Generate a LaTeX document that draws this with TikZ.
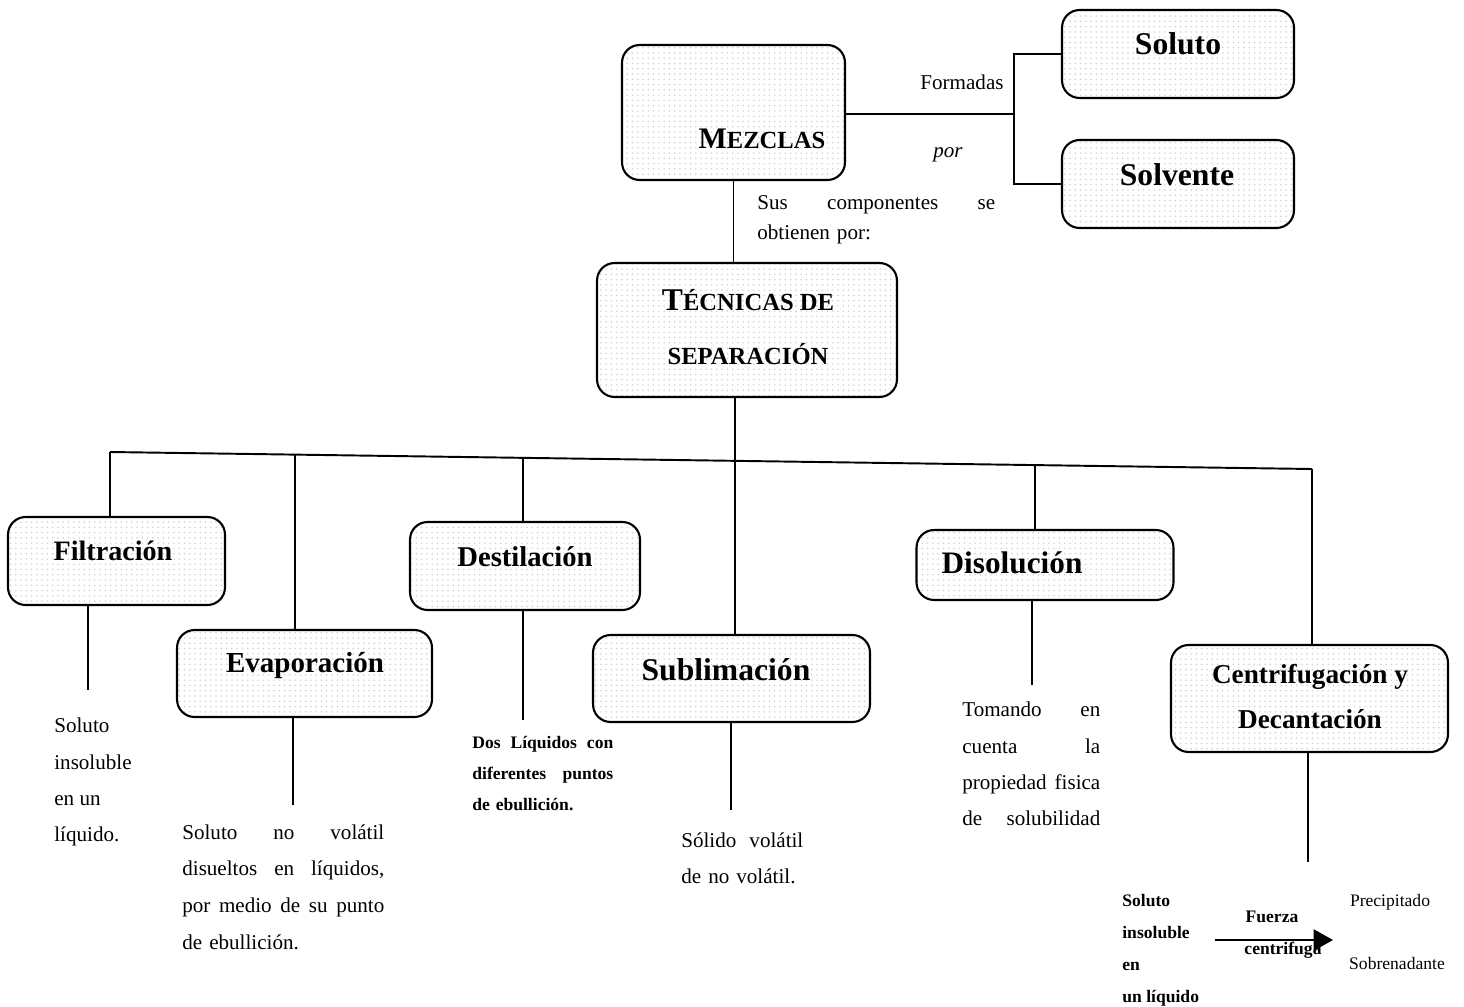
\documentclass[tikz,border=0pt]{standalone}
\usepackage{fontspec}
\setmainfont{Liberation Serif}
\usetikzlibrary{arrows.meta,patterns}

\tikzset{
  box/.style={draw, line width=1.2pt, rounded corners=10pt, pattern=dots, pattern color=black!18, inner sep=0pt},
  boxtext/.style={font=\fontsize{17}{20}\selectfont\bfseries, inner sep=0pt, text height=12pt, text depth=0pt},
  twoline/.style={font=\bfseries, inner sep=0pt, align=center},
  note/.style={anchor=north west, inner sep=0pt, align=left, font=\fontsize{12}{20.5}\selectfont},
  small/.style={anchor=north west, inner sep=0pt, align=left, font=\fontsize{10}{17.6}\selectfont\bfseries},
  link/.style={line width=1.1pt},
}

\begin{document}
\begin{tikzpicture}[x=0.02cm, y=-0.02cm]
    \fill[white] (0,0) rectangle (1464,1007);
    \useasboundingbox (0,0) rectangle (1464,1007);

    \node[box, minimum width=4.46cm, minimum height=2.70cm] (mez) at (733.5,112.5) {};
    \node[box, minimum width=4.64cm, minimum height=1.76cm] (sol) at (1178,54) {};
    \node[box, minimum width=4.64cm, minimum height=1.76cm] (solv) at (1178,184) {};
    \node[box, minimum width=6.00cm, minimum height=2.68cm] (tec) at (747,330) {};
    \node[box, minimum width=4.34cm, minimum height=1.76cm] (filt) at (116.5,561) {};
    \node[box, minimum width=5.10cm, minimum height=1.74cm] (evap) at (304.5,673.5) {};
    \node[box, minimum width=4.60cm, minimum height=1.76cm] (dest) at (525,566) {};
    \node[box, minimum width=5.54cm, minimum height=1.74cm] (subl) at (731.5,678.5) {};
    \node[box, minimum width=5.14cm, minimum height=1.40cm] (diso) at (1045,565) {};
    \node[box, minimum width=5.54cm, minimum height=2.14cm] (cent) at (1309.5,698.5) {};

    \node[boxtext] (mez-t) at (762,138) {M\fontsize{14}{20}\selectfont EZCLAS};
    \node[boxtext, font=\fontsize{18}{20}\selectfont\bfseries] (sol-t) at (1178,44) {Soluto};
    \node[boxtext, font=\fontsize{18}{20}\selectfont\bfseries] (solv-t) at (1177,175) {Solvente};
    \node[twoline, font=\fontsize{18}{31}\selectfont\bfseries] (tec-t) at (748,327)
        {T\fontsize{14}{31}\selectfont ÉCNICAS DE\\\fontsize{14}{31}\selectfont SEPARACIÓN};
    \node[boxtext, font=\fontsize{16}{20}\selectfont\bfseries] (filt-t) at (113,550) {Filtración};
    \node[boxtext, font=\fontsize{16.5}{20}\selectfont\bfseries] (evap-t) at (305,662) {Evaporación};
    \node[boxtext, font=\fontsize{16.3}{20}\selectfont\bfseries] (dest-t) at (525,556) {Destilación};
    \node[boxtext, font=\fontsize{18}{20}\selectfont\bfseries] (subl-t) at (726,670) {Sublimación};
    \node[boxtext, font=\fontsize{17.8}{20}\selectfont\bfseries] (diso-t) at (1012,563) {Disolución};
    \node[twoline, font=\fontsize{15.5}{25.6}\selectfont\bfseries] (cent-t) at (1310,697)
        {Centrifugación y\\Decantación};

    \coordinate (fork) at (1014,114);
    \draw[link] (mez.east |- fork) -- (fork);
    \draw[link] (sol.west) -| (fork) |- (solv.west);
    \node[font=\fontsize{12}{14}\selectfont] (form) at (962,82) {Formadas};
    \node[font=\fontsize{12}{14}\selectfont\itshape] (por) at (948,155) {por};

    \draw[link] (mez.south) -- (mez.south |- tec.north);
    \node[note, text width=4.76cm, font=\fontsize{12}{17}\selectfont] (sus) at (757,195)
        {Sus\hfill componentes\hfill se\\obtienen por:};

    \coordinate (j-filt) at (110,452);
    \coordinate (j-evap) at (295,454.6);
    \coordinate (j-dest) at (523,457.8);
    \coordinate (j-subl) at (735,460.8);
    \coordinate (j-diso) at (1035,465.1);
    \coordinate (j-cent) at (1312,469);
    \draw[link] (j-filt) -- (j-cent);
    \draw[link] (tec.south -| j-subl) -- (j-subl |- subl.north);
    \draw[link] (j-filt) -- (j-filt |- filt.north);
    \draw[link] (j-evap) -- (j-evap |- evap.north);
    \draw[link] (j-dest) -- (j-dest |- dest.north);
    \draw[link] (j-diso) -- (j-diso |- diso.north);
    \draw[link] (j-cent) -- (j-cent |- cent.north);

    \coordinate (filt-e) at (88,690);
    \coordinate (evap-e) at (293,805);
    \coordinate (dest-e) at (523,720);
    \coordinate (subl-e) at (731,810);
    \coordinate (diso-e) at (1032,685);
    \coordinate (cent-e) at (1308,862);
    \draw[link] (filt-e |- filt.south) -- (filt-e);
    \draw[link] (evap-e |- evap.south) -- (evap-e);
    \draw[link] (dest-e |- dest.south) -- (dest-e);
    \draw[link] (subl-e |- subl.south) -- (subl-e);
    \draw[link] (diso-e |- diso.south) -- (diso-e);
    \draw[link] (cent-e |- cent.south) -- (cent-e);

    \node[note] (filt-n) at (54,718) {Soluto\\insoluble\\en un\\líquido.};
    \node[note, text width=4.04cm, font=\fontsize{12}{21}\selectfont] (evap-n) at (182,824)
        {Soluto\hfill no\hfill volátil\\disueltos\hfill en\hfill líquidos,\\por\hfill medio\hfill de\hfill su\hfill punto\\de ebullición.};
    \node[small, text width=2.82cm] (dest-n) at (472,736)
        {Dos\hfill Líquidos\hfill con\\diferentes\hfill puntos\\de ebullición.};
    \node[note, text width=2.44cm] (subl-n) at (681,832) {Sólido\hfill volátil\\de no volátil.};
    \node[note, text width=2.76cm] (diso-n) at (962,702)
        {Tomando\hfill en\\cuenta\hfill la\\propiedad\hfill fisica\\de\hfill solubilidad};

    \node[small, font=\fontsize{10}{18.2}\selectfont\bfseries] (cent-n) at (1122,894)
        {Soluto\\insoluble\\en\\un líquido};
    \node[font=\fontsize{10}{12}\selectfont\bfseries, inner sep=0pt] (fuerza) at (1272,917) {Fuerza};
    \node[font=\fontsize{10}{12}\selectfont\bfseries, inner sep=0pt] (centr) at (1283,950) {centrifuga};
    \node[font=\fontsize{10}{12}\selectfont, inner sep=0pt] (prec) at (1390,902) {Precipitado};
    \node[font=\fontsize{10}{12}\selectfont, inner sep=0pt] (sobre) at (1397,963) {Sobrenadante};
    \coordinate (fz-a) at (1215,940);
    \coordinate (fz-b) at (1333,940);
    \draw[link, -{Triangle[length=11pt, width=12pt]}] (fz-a) -- (fz-b);
\end{tikzpicture}
\end{document}
